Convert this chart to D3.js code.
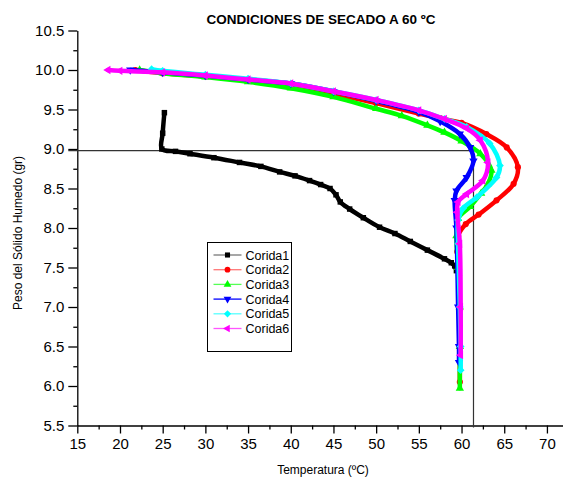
<!DOCTYPE html>
<html>
<head>
<meta charset="utf-8">
<script src="https://cdn.jsdelivr.net/npm/d3@7"></script>
<style>
  body { margin: 0; background: #fff; }
  text { font-family: "Liberation Sans", Arial, sans-serif; fill: #000; }
</style>
</head>
<body>
<div id="chart"></div>
<script>
// Data: temperature (ºC) and weight (gr), in drawing order
var corida1T = [25.2, 25.0, 24.9, 26.5, 28.2, 31, 34.0, 36.5, 38.7, 40.5, 42.2, 43.5, 44.6, 45.3, 45.8, 46.9, 48.5, 50.4, 52.2, 54, 56, 58.0, 58.8, 59.2, 59.4];
var corida1W = [9.46, 9.2, 9.0, 8.97, 8.94, 8.89, 8.83, 8.78, 8.71, 8.66, 8.60, 8.55, 8.50, 8.42, 8.33, 8.24, 8.13, 8.01, 7.93, 7.83, 7.72, 7.61, 7.56, 7.52, 7.46];

var corida2T = [21.8, 25, 30, 35, 40, 45, 50, 55, 57.5, 60, 62.9, 65.3, 66.6, 66.1, 64.1, 62, 60.5, 59.6, 59.5, 59.7, 59.8, 59.8, 59.8];
var corida2W = [10.0, 9.96, 9.92, 9.87, 9.80, 9.70, 9.58, 9.45, 9.39, 9.33, 9.19, 9.02, 8.77, 8.56, 8.35, 8.17, 8.05, 7.9, 7.7, 7.4, 7.0, 6.5, 6.05];

var corida3T = [22.3, 25, 30, 35, 40, 45, 50, 53, 56, 58, 60, 62.2, 63.5, 63.1, 62.3, 61, 59.6, 59.4, 59.6, 59.8, 59.8, 59.8];
var corida3W = [10.0, 9.96, 9.91, 9.85, 9.77, 9.66, 9.51, 9.42, 9.30, 9.21, 9.10, 8.94, 8.73, 8.56, 8.44, 8.27, 8.12, 7.9, 7.5, 7.0, 6.5, 5.97];

var corida4T = [21.2, 25, 30, 35, 40, 45, 50, 55, 57.5, 59.8, 61, 61.4, 60.6, 59.4, 59.2, 59.4, 59.6, 59.7, 59.7];
var corida4W = [10.0, 9.97, 9.93, 9.88, 9.83, 9.73, 9.61, 9.47, 9.35, 9.19, 9.02, 8.85, 8.64, 8.47, 8.35, 8.0, 7.0, 6.5, 6.3];

var corida5T = [23.7, 25, 30, 35, 40, 45, 50, 55, 58, 60.6, 63.3, 64.5, 64.1, 61.8, 60.2, 59.6, 59.6, 59.8, 59.9, 59.9];
var corida5W = [10.01, 9.99, 9.94, 9.89, 9.83, 9.73, 9.62, 9.49, 9.38, 9.28, 9.07, 8.79, 8.64, 8.39, 8.25, 8.1, 7.8, 7.0, 6.5, 6.2];

var corida6T = [18.6, 20, 25, 30, 35, 40, 45, 50, 55, 58, 60.6, 62.2, 63.1, 62.5, 60.6, 59.6, 59.5, 59.8, 59.9, 59.9];
var corida6W = [10.0, 9.99, 9.97, 9.93, 9.88, 9.83, 9.73, 9.62, 9.49, 9.38, 9.26, 9.11, 8.83, 8.6, 8.43, 8.33, 8.2, 7.8, 7.0, 6.39];

var seriesNames = ["Corida1", "Corida2", "Corida3", "Corida4", "Corida5", "Corida6"];
var seriesColors = ["#000000", "#ff0000", "#00ff00", "#0000ff", "#00ffff", "#ff00ff"];
var legendLineColors = ["#777777", "#ff7777", "#55ff55", "#0000ff", "#55ffff", "#ff55ff"];

var xTicks = [15, 20, 25, 30, 35, 40, 45, 50, 55, 60, 65, 70];
var yTicks = [5.5, 6.0, 6.5, 7.0, 7.5, 8.0, 8.5, 9.0, 9.5, 10.0, 10.5];

// reference lines
var refTemp = 61.4;
var refWeight = 8.98;

var svgWidth = 563;
var svgHeight = 478;

var svg = d3.select("#chart")
  .append("svg")
  .attr("width", svgWidth)
  .attr("height", svgHeight);

var x = d3.scaleLinear().domain([15, 72]).range([77.3, 564]);
var y = d3.scaleLinear().domain([5.5, 10.5]).range([425.5, 30.5]);

// minor ticks
var xMinor = d3.range(17.5, 72, 5);
var yMinor = d3.range(5.75, 10.5, 0.5);

svg.append("g")
  .attr("transform", "translate(0," + y(5.5) + ")")
  .call(d3.axisBottom(x).tickValues(xMinor).tickFormat("").tickSize(4).tickSizeOuter(0))
  .call(g => g.select(".domain").remove());

svg.append("g")
  .attr("transform", "translate(" + x(15) + ",0)")
  .call(d3.axisLeft(y).tickValues(yMinor).tickFormat("").tickSize(4).tickSizeOuter(0))
  .call(g => g.select(".domain").remove());

var xAxis = svg.append("g")
  .attr("transform", "translate(0," + y(5.5) + ")")
  .call(d3.axisBottom(x).tickValues(xTicks).tickFormat(d3.format("d")).tickSize(8).tickSizeOuter(0).tickPadding(5));

var yAxis = svg.append("g")
  .attr("transform", "translate(" + x(15) + ",0)")
  .call(d3.axisLeft(y).tickValues(yTicks).tickFormat(d3.format(".1f")).tickSize(9).tickSizeOuter(0).tickPadding(4));

svg.selectAll(".tick text").style("font-size", "15px").style("font-family", "'Liberation Sans', Arial, sans-serif");
svg.selectAll(".domain, .tick line").attr("stroke", "#000").attr("stroke-width", 1.3);

// reference lines
svg.append("line")
  .attr("x1", x(15) - 9).attr("x2", x(refTemp))
  .attr("y1", y(refWeight)).attr("y2", y(refWeight))
  .attr("stroke", "#333").attr("stroke-width", 1.2);
svg.append("line")
  .attr("x1", x(refTemp)).attr("x2", x(refTemp))
  .attr("y1", y(refWeight)).attr("y2", y(5.5) + 2)
  .attr("stroke", "#333").attr("stroke-width", 1.2);

// series
var allT = [corida1T, corida2T, corida3T, corida4T, corida5T, corida6T];
var allW = [corida1W, corida2W, corida3W, corida4W, corida5W, corida6W];

var symbolTypes = [d3.symbolSquare, d3.symbolCircle, d3.symbolTriangle, d3.symbolTriangle, d3.symbolSquare, d3.symbolTriangle];
var symbolRotate = [0, 0, 0, 180, 45, -90];

var line = d3.line()
  .x(d => x(d.t))
  .y(d => y(d.w))
  .curve(d3.curveCatmullRom.alpha(0.5));

allT.forEach(function(ts, i) {
  var pts = ts.map((t, j) => ({ t: t, w: allW[i][j] }));
  var g = svg.append("g");
  g.append("path")
    .datum(pts)
    .attr("d", line)
    .attr("fill", "none")
    .attr("stroke", seriesColors[i])
    .attr("stroke-width", 4.5)
    .attr("stroke-linejoin", "round")
    .attr("stroke-linecap", "round");
  g.selectAll("path.mk")
    .data(pts)
    .enter()
    .append("path")
    .attr("class", "mk")
    .attr("d", d3.symbol().type(symbolTypes[i]).size(30))
    .attr("transform", d => "translate(" + x(d.t) + "," + y(d.w) + ") rotate(" + symbolRotate[i] + ")")
    .attr("fill", seriesColors[i]);
});

// legend
var legend = svg.append("g").attr("transform", "translate(207.5,242.5)");
legend.append("rect")
  .attr("width", 84).attr("height", 109)
  .attr("fill", "#fff").attr("stroke", "#000").attr("stroke-width", 1);

seriesNames.forEach(function(name, i) {
  var ly = 12.5 + i * 14.7;
  legend.append("line")
    .attr("x1", 6).attr("x2", 34)
    .attr("y1", ly).attr("y2", ly)
    .attr("stroke", legendLineColors[i]).attr("stroke-width", 1.3);
  legend.append("path")
    .attr("d", d3.symbol().type(symbolTypes[i]).size(26))
    .attr("transform", "translate(20," + ly + ") rotate(" + symbolRotate[i] + ")")
    .attr("fill", seriesColors[i]);
  legend.append("text")
    .attr("x", 38).attr("y", ly + 4.5)
    .style("font-size", "12.5px")
    .text(name);
});

// titles
svg.append("text")
  .attr("x", 321).attr("y", 24)
  .attr("text-anchor", "middle")
  .style("font-size", "13.5px")
  .style("font-weight", "700")
  .text("CONDICIONES DE SECADO A 60 ºC");

svg.append("text")
  .attr("x", 323).attr("y", 474)
  .attr("text-anchor", "middle")
  .style("font-size", "12px")
  .text("Temperatura (ºC)");

svg.append("text")
  .attr("transform", "translate(22,233) rotate(-90)")
  .attr("text-anchor", "middle")
  .style("font-size", "12px")
  .text("Peso del Sólido Humedo (gr)");
</script>
</body>
</html>
